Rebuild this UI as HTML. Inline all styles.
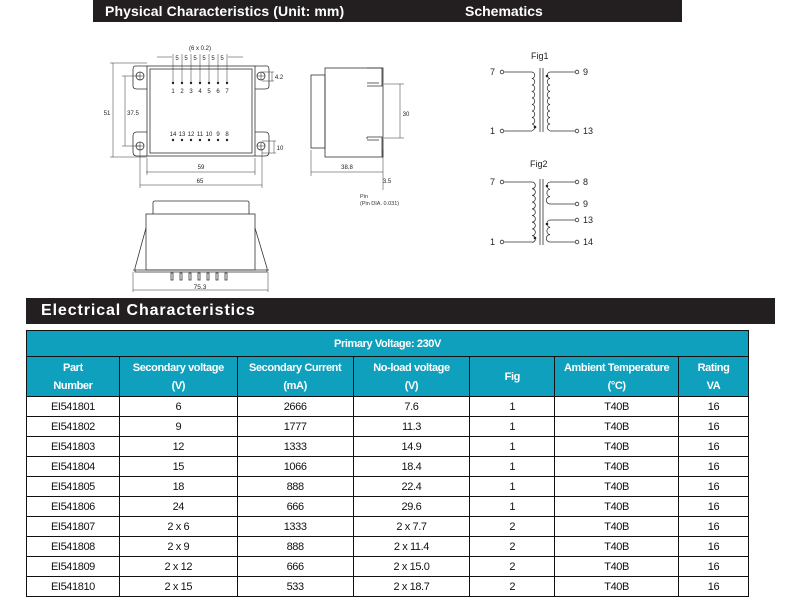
<!DOCTYPE html>
<html><head><meta charset="utf-8"><style>
body{margin:0;width:800px;height:600px;background:#fff;overflow:hidden;font-family:"Liberation Sans",Arial,sans-serif;position:relative}
.bar{position:absolute;background:#231f20;color:#fff;font-weight:bold}
table{position:absolute;left:26px;top:330px;border-collapse:collapse;width:723px;font-size:11px;letter-spacing:-0.4px;font-family:"Liberation Sans",Arial,sans-serif}
td{border:1.5px solid #111;text-align:center;padding:0;height:19px;color:#111}
.h td{background:#0fa0bd;color:#fff;font-weight:bold;font-size:11px}
</style></head><body>
<div class="bar" style="left:93px;top:0;width:589px;height:22px;"></div>
<div style="position:absolute;left:105px;top:3px;color:#fff;font-weight:bold;font-size:14px;letter-spacing:0.1px">Physical Characteristics (Unit: mm)</div>
<div style="position:absolute;left:465px;top:3px;color:#fff;font-weight:bold;font-size:14px">Schematics</div>
<div class="bar" style="left:26px;top:298px;width:749px;height:26px;"></div>
<div style="position:absolute;left:41px;top:302px;color:#fff;font-weight:bold;font-size:16px;letter-spacing:0.9px">Electrical Characteristics</div>

<svg width="800" height="300" style="position:absolute;left:0;top:0" font-family="Liberation Sans,Arial,sans-serif" fill="none" stroke="#333" stroke-width="0.8">
<rect x="147" y="66" width="108" height="90"/>
<rect x="150" y="69" width="102" height="84"/>
<path d="M147 66 H135 Q133 66 133 70 V86 Q133 89 137 89 H147 M147 132 H137 Q133 132 133 136 V152 Q133 156 137 156 H147"/>
<path d="M255 66 H267 Q269 66 269 70 V86 Q269 89 265 89 H255 M255 132 H265 Q269 132 269 136 V152 Q269 156 265 156 H255"/>
<circle cx="140" cy="76" r="4"/><circle cx="140" cy="146" r="4"/><circle cx="261" cy="76" r="4"/><circle cx="261" cy="146" r="4"/>
<path d="M136 76h8M140 72v8M136 146h8M140 142v8M257 76h8M261 72v8M257 146h8M261 142v8" stroke-width="0.6"/>
<g fill="#222" stroke="none">
<circle cx="173" cy="83" r="1.2"/><circle cx="182" cy="83" r="1.2"/><circle cx="191" cy="83" r="1.2"/><circle cx="200" cy="83" r="1.2"/><circle cx="209" cy="83" r="1.2"/><circle cx="218" cy="83" r="1.2"/><circle cx="227" cy="83" r="1.2"/>
<circle cx="173" cy="140" r="1.2"/><circle cx="182" cy="140" r="1.2"/><circle cx="191" cy="140" r="1.2"/><circle cx="200" cy="140" r="1.2"/><circle cx="209" cy="140" r="1.2"/><circle cx="218" cy="140" r="1.2"/><circle cx="227" cy="140" r="1.2"/>
</g>
<g fill="#222" stroke="none" font-size="6" text-anchor="middle">
<text x="173" y="93">1</text><text x="182" y="93">2</text><text x="191" y="93">3</text><text x="200" y="93">4</text><text x="209" y="93">5</text><text x="218" y="93">6</text><text x="227" y="93">7</text>
<text x="173" y="136">14</text><text x="182" y="136">13</text><text x="191" y="136">12</text><text x="200" y="136">11</text><text x="209" y="136">10</text><text x="218" y="136">9</text><text x="227" y="136">8</text>
<text x="200" y="50">(6 x 0.2)</text>
<text x="177" y="60">5</text><text x="186" y="60">5</text><text x="195" y="60">5</text><text x="204" y="60">5</text><text x="213" y="60">5</text><text x="222" y="60">5</text>
<text x="107" y="115">51</text><text x="133" y="115">37.5</text><text x="201" y="169">59</text><text x="200" y="183">65</text>
<text x="279" y="79">4.2</text><text x="280" y="150">10</text>
<text x="406" y="116">30</text><text x="347" y="169">38.8</text><text x="387" y="183">3.5</text>
<text x="200" y="289" font-size="6.5">75.3</text>
</g>
<path d="M157 57h15M228 57h15M173 54v28M182 54v28M191 54v28M200 54v28M209 54v28M218 54v28M227 54v28" stroke-width="0.5"/>
<path d="M110 63h37M110 157h37M113 63v94M122 76h18M122 146h18M125 76v70M147 158v17M255 158v17M146 172h109M140 150v38M262 150v38M140 185h122M262 72h12M262 81h12M272 72v9M262 141h14M262 153h14M274 141v12" stroke-width="0.5"/>
<rect x="325" y="68" width="58" height="89"/>
<rect x="311" y="75" width="14" height="73"/>
<path d="M367 68h15v18h-15M367 83h12M367 137h15v20M367 140h12M367 137v2"/>
<path d="M384 84h20M384 138h20M400 84v54M311 150v26M383 150v40M311 172h72" stroke-width="0.5"/>
<text x="360" y="198" font-size="5.5" fill="#333" stroke="none">Pin</text>
<text x="360" y="205" font-size="5.5" fill="#333" stroke="none">(Pin DIA. 0.031)</text>
<path d="M153 214V203Q153 201 155 201H247Q249 201 249 203V214"/>
<rect x="146" y="214" width="109" height="56"/>
<path d="M146 228L135 268V272H267V268L255 228M133 270h136M146 270h109"/>
<g stroke-width="0.8"><rect x="171" y="273" width="2" height="7"/><rect x="180" y="273" width="2" height="7"/><rect x="189" y="273" width="2" height="7"/><rect x="198" y="273" width="2" height="7"/><rect x="207" y="273" width="2" height="7"/><rect x="216" y="273" width="2" height="7"/><rect x="225" y="273" width="2" height="7"/></g>
<path d="M133 272v20M268 272v20M133 290h135" stroke-width="0.5"/>
<g fill="#222" stroke="none" font-size="9">
<text x="531" y="59">Fig1</text><text x="490" y="75">7</text><text x="490" y="134">1</text><text x="583" y="75">9</text><text x="583" y="134">13</text>
<text x="530" y="167">Fig2</text><text x="490" y="185">7</text><text x="490" y="245">1</text><text x="583" y="185">8</text><text x="583" y="207">9</text><text x="583" y="223">13</text><text x="583" y="245">14</text>
</g>
<g stroke="#333" stroke-width="0.8">
<circle cx="502" cy="72" r="1.8"/><circle cx="502" cy="131" r="1.8"/><circle cx="577" cy="72" r="1.8"/><circle cx="577" cy="131" r="1.8"/>
<path d="M504 72h28 M504 131h28 M575 72h-25 M575 131h-25 M540 68v64M543 68v64"/>
<path d="M532 72a3.3 3.3 0 0 1 0 6.5a3.3 3.3 0 0 1 0 6.5a3.3 3.3 0 0 1 0 6.5a3.3 3.3 0 0 1 0 6.5a3.3 3.3 0 0 1 0 6.5a3.3 3.3 0 0 1 0 6.5a3.3 3.3 0 0 1 0 6.5a3.3 3.3 0 0 1 0 6.5a3.3 3.3 0 0 1 0 6.5"/>
<path d="M550 72a3.3 3.3 0 0 0 0 6.5a3.3 3.3 0 0 0 0 6.5a3.3 3.3 0 0 0 0 6.5a3.3 3.3 0 0 0 0 6.5a3.3 3.3 0 0 0 0 6.5a3.3 3.3 0 0 0 0 6.5a3.3 3.3 0 0 0 0 6.5a3.3 3.3 0 0 0 0 6.5a3.3 3.3 0 0 0 0 6.5"/>
<circle cx="502" cy="182" r="1.8"/><circle cx="502" cy="242" r="1.8"/><circle cx="577" cy="182" r="1.8"/><circle cx="577" cy="204" r="1.8"/><circle cx="577" cy="220" r="1.8"/><circle cx="577" cy="242" r="1.8"/>
<path d="M504 182h28 M504 242h28 M575 182h-25 M575 204h-25 M575 220h-25 M575 242h-25 M540 179v66M543 179v66"/>
<path d="M532 182a3.3 3.3 0 0 1 0 6.7a3.3 3.3 0 0 1 0 6.7a3.3 3.3 0 0 1 0 6.7a3.3 3.3 0 0 1 0 6.7a3.3 3.3 0 0 1 0 6.7a3.3 3.3 0 0 1 0 6.7a3.3 3.3 0 0 1 0 6.7a3.3 3.3 0 0 1 0 6.7a3.3 3.3 0 0 1 0 6.7"/>
<path d="M550 182a3.7 3.7 0 0 0 0 7.3a3.7 3.7 0 0 0 0 7.3a3.7 3.7 0 0 0 0 7.4"/>
<path d="M550 220a3.7 3.7 0 0 0 0 7.3a3.7 3.7 0 0 0 0 7.3a3.7 3.7 0 0 0 0 7.4"/>
</g>
<g fill="#222" stroke="none"><circle cx="535" cy="127" r="1.3"/><circle cx="547" cy="76" r="1.3"/><circle cx="535" cy="238" r="1.3"/><circle cx="547" cy="186" r="1.3"/><circle cx="547" cy="224" r="1.3"/></g>
</svg>

<table>
<colgroup><col style="width:93px"><col style="width:118px"><col style="width:116px"><col style="width:117px"><col style="width:85px"><col style="width:124px"><col style="width:70px"></colgroup>
<tr class="h"><td colspan="7" style="height:25px">Primary Voltage: 230V</td></tr>
<tr class="h"><td style="height:39px;line-height:18px">Part<br>Number</td><td style="line-height:18px">Secondary voltage<br>(V)</td><td style="line-height:18px">Secondary Current<br>(mA)</td><td style="line-height:18px">No-load voltage<br>(V)</td><td>Fig</td><td style="line-height:18px">Ambient Temperature<br>(°C)</td><td style="line-height:18px">Rating<br>VA</td></tr>
<tr><td>EI541801</td><td>6</td><td>2666</td><td>7.6</td><td>1</td><td>T40B</td><td>16</td></tr>
<tr><td>EI541802</td><td>9</td><td>1777</td><td>11.3</td><td>1</td><td>T40B</td><td>16</td></tr>
<tr><td>EI541803</td><td>12</td><td>1333</td><td>14.9</td><td>1</td><td>T40B</td><td>16</td></tr>
<tr><td>EI541804</td><td>15</td><td>1066</td><td>18.4</td><td>1</td><td>T40B</td><td>16</td></tr>
<tr><td>EI541805</td><td>18</td><td>888</td><td>22.4</td><td>1</td><td>T40B</td><td>16</td></tr>
<tr><td>EI541806</td><td>24</td><td>666</td><td>29.6</td><td>1</td><td>T40B</td><td>16</td></tr>
<tr><td>EI541807</td><td>2 x 6</td><td>1333</td><td>2 x 7.7</td><td>2</td><td>T40B</td><td>16</td></tr>
<tr><td>EI541808</td><td>2 x 9</td><td>888</td><td>2 x 11.4</td><td>2</td><td>T40B</td><td>16</td></tr>
<tr><td>EI541809</td><td>2 x 12</td><td>666</td><td>2 x 15.0</td><td>2</td><td>T40B</td><td>16</td></tr>
<tr><td>EI541810</td><td>2 x 15</td><td>533</td><td>2 x 18.7</td><td>2</td><td>T40B</td><td>16</td></tr>
</table>
</body></html>
